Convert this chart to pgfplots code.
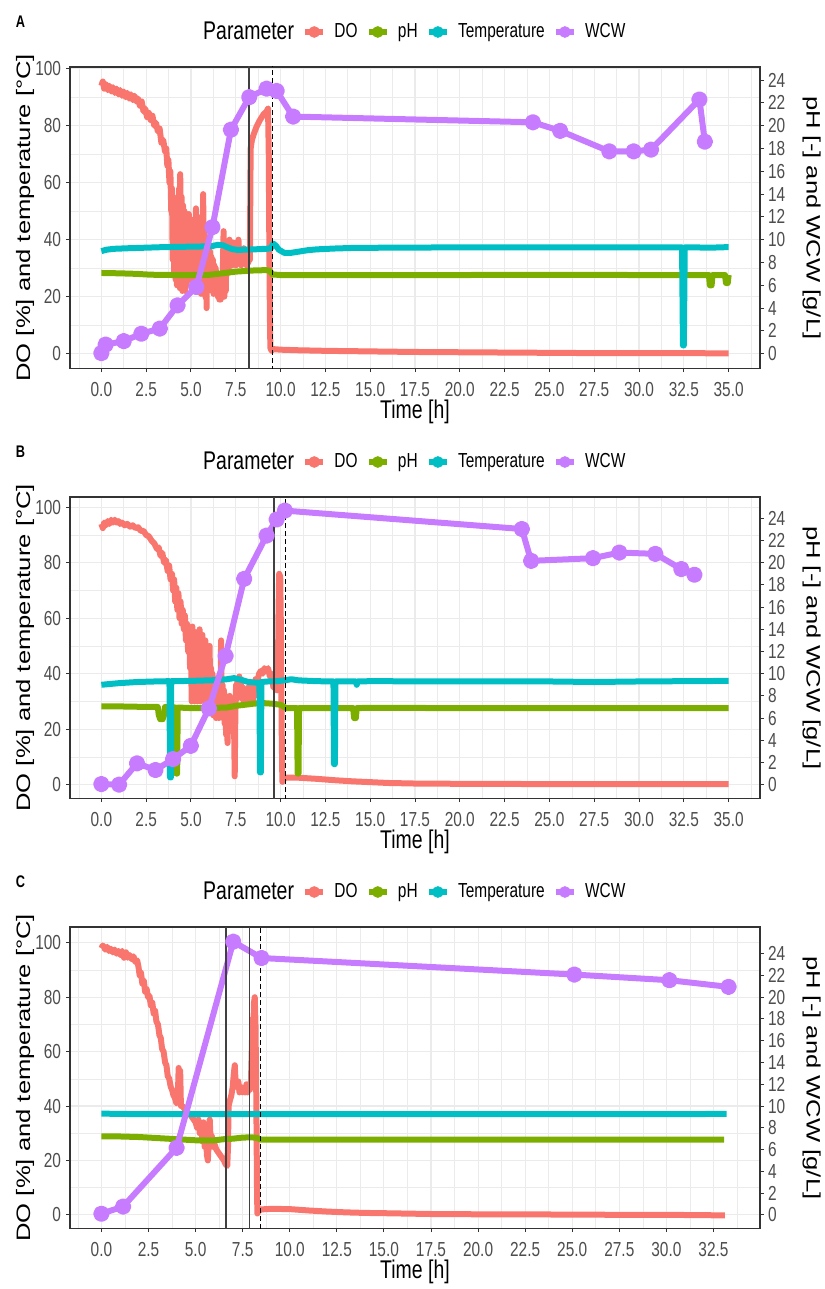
\documentclass[border=0pt]{standalone}
\usepackage{pgfplots}
\pgfplotsset{compat=1.18}
\usepackage{graphicx}
\usepackage{fontspec}
\setmainfont{Liberation Sans}[FakeStretch=0.76]
\newfontfamily\rotfont{Liberation Sans}
\definecolor{cDO}{HTML}{F8766D}
\definecolor{cPH}{HTML}{7CAE00}
\definecolor{cTE}{HTML}{00BFC4}
\definecolor{cWC}{HTML}{C77CFF}
\definecolor{grid92}{HTML}{EBEBEB}
\definecolor{g20}{HTML}{333333}
\definecolor{g30}{HTML}{4D4D4D}
\newcommand\tickfont{\fontsize{10.15}{12}\selectfont}
\newcommand\ttlfont{\fontsize{12.8}{15}\selectfont}
\pgfplotsset{
  base/.style={scale only axis, width=345pt, height=150.75pt, anchor=south west},
  xAB/.style={xmin=-1.75, xmax=36.75},
  xC/.style={xmin=-1.67, xmax=34.97},
  leftframe/.style={
    grid=both,
    major grid style={grid92, line width=0.55pt},
    minor grid style={grid92, line width=0.3pt},
    ytick={0,20,40,60,80,100}, minor ytick={10,30,50,70,90},
    tick align=outside, major tick length=1.8pt, minor tick length=0pt, tick pos=left,
    major tick style={g20, line width=0.5pt},
    axis line style={g20, line width=0.6pt},
    tick label style={font=\tickfont, text=g30},
    /pgf/number format/assume math mode=true,
    xticklabel={\pgfmathprintnumber[fixed,fixed zerofill,precision=1]{\tick}},
    xticklabel style={inner sep=0pt, anchor=north, yshift=-5pt},
    yticklabel style={inner sep=0pt, anchor=east, xshift=-2.5pt},
    xlabel={\ttlfont Time [h]},
    xlabel style={at={(axis description cs:0.5,0)}, anchor=center, yshift=-21.85pt},
    ylabel={\scalebox{1}[0.76]{\rotfont\ttlfont DO [\%] and temperature [°C]}},
    ylabel style={at={(axis description cs:-0.0652,0.5)}, anchor=center},
    every axis title/.style={at={(0,1)}, anchor=center, xshift=-24.75pt, yshift=22.75pt},
  },
  rightframe/.style={
    axis y line*=right, axis x line=none,
    ytick={0,2,4,6,8,10,12,14,16,18,20,22,24},
    tick align=outside, major tick length=1.8pt,
    major tick style={g20, line width=0.5pt},
    axis line style={g20, line width=0.6pt},
    tick label style={font=\tickfont, text=g30},
    /pgf/number format/assume math mode=true,
    yticklabel style={inner sep=0pt, anchor=west, xshift=2pt},
    ylabel={\scalebox{1}[0.76]{\rotfont\ttlfont pH [-] and WCW [g/L]}},
    ylabel style={at={(axis description cs:1.0749,0.5)}, anchor=center, rotate=180},
  },
  legax/.style={
    legend style={draw=none, fill=none, at={(0.5,1)}, anchor=center, yshift=17.5pt, xshift=-2.5pt,
      legend columns=-1, font=\tickfont, inner sep=0pt, nodes={inner sep=0pt},
      /tikz/every odd column/.append style={column sep=4.3pt},
      /tikz/every even column/.append style={column sep=4.3pt}},
  },
  ser/.style={line width=3pt, line join=round},
  wcw/.style={cWC, line width=3pt, line join=round, mark=*, mark size=2.6pt, mark options={solid}},
}
\begin{document}
\begin{tikzpicture}
\useasboundingbox (0,0) rectangle (412pt,-644.5pt);
% ================= PANEL A =================
\begin{axis}[base, xAB, leftframe, at={(35pt,-184.25pt)}, ymin=-5.2, ymax=100.6,
  xtick={0,2.5,5,7.5,10,12.5,15,17.5,20,22.5,25,27.5,30,32.5,35},
  minor xtick={-1.25,1.25,3.75,6.25,8.75,11.25,13.75,16.25,18.75,21.25,23.75,26.25,28.75,31.25,33.75,36.25},
  title={\bfseries\fontsize{8.4}{10}\selectfont A}]
\addplot[ser, cDO] coordinates {
(0,94)(0.08,95.5)(0.16,93)(0.25,94.5)(0.35,92.5)(0.45,94)(0.55,92)(0.65,93.5)(0.75,91.5)(0.85,93)(0.95,91)(1.05,92.5)(1.15,90.5)(1.25,92)(1.35,90)(1.45,91.5)(1.55,89.5)(1.65,91)(1.75,89)(1.85,90.5)(1.95,88.5)(2.05,89.5)(2.15,87)(2.25,88.5)(2.35,85)(2.45,86)(2.55,83)(2.65,84.5)(2.75,82)(2.85,83.5)(2.95,80)(3.05,81)(3.15,78)(3.25,79)(3.35,74)(3.45,75)(3.55,71)(3.62,72)(3.68,66)(3.74,68)(3.8,60)(3.85,64)(3.9,50)(3.94,58)
(3.98,33)(4.02,55)(4.06,28)(4.1,52)(4.14,26)(4.18,54)(4.22,24)(4.26,50)(4.3,25)(4.34,58)(4.38,23)(4.4,63)(4.44,24)(4.48,55)(4.52,22)(4.56,52)(4.6,23)(4.64,50)(4.68,22)(4.72,48)(4.76,24)(4.8,46)(4.84,27)(4.88,49)(4.92,26)(4.96,45)(5.0,28)(5.04,47)(5.08,26)(5.12,46)(5.16,24)(5.2,44)(5.24,23)(5.28,51)(5.32,24)(5.36,48)(5.4,22)(5.44,45)(5.48,23)(5.52,42)(5.56,21)(5.6,48)(5.64,25)(5.68,56)(5.72,22)(5.76,44)(5.8,20)(5.84,38)(5.87,16)(5.9,34)(5.94,22)(5.98,37)(6.02,23)(6.06,36)(6.1,24)(6.14,34)(6.18,22)(6.22,33)(6.26,21)(6.3,31)(6.34,22)(6.38,30)(6.42,21)(6.46,27)(6.5,20)(6.54,26)(6.58,19)(6.62,25)(6.66,19)(6.7,24)(6.74,20)(6.78,30)(6.82,43)(6.86,20)(6.9,38)(6.94,22)(6.98,36)(7.02,28)(7.06,38)(7.1,30)(7.15,40)(7.2,32)(7.25,38)(7.3,31)(7.35,39)(7.4,32)(7.45,37)(7.5,31)(7.55,39)(7.6,33)(7.65,40)(7.7,32)(7.75,37)(7.8,31)(7.85,36)(7.9,32)(7.95,37)(8.0,32)(8.05,36)(8.1,31)(8.15,35)(8.2,32)(8.25,34)(8.29,33)
(8.31,55)(8.33,72)(8.4,75)(8.5,77)(8.65,79.5)(8.85,82)(9.05,84)(9.22,85)(9.3,86)(9.34,70)(9.37,40)(9.4,15)(9.43,2)(9.5,1)(9.6,1.6)(10,1.4)(11,1.2)(12.5,1)(15,0.8)(17.5,0.6)(20,0.5)(22.5,0.4)(25,0.3)(27.5,0.2)(30,0.2)(32.5,0.2)(35,0.1)};
\end{axis}
\begin{axis}[base, xAB, rightframe, at={(35pt,-184.25pt)}, ymin=-1.3, ymax=25.15]
\addplot[ser, cPH] coordinates {
(0,7.08)(1,7.05)(2,7.0)(2.5,6.95)(3,6.92)(4,6.9)(5,6.9)(6,6.92)(6.5,7.0)(7,7.1)(7.5,7.2)(8,7.25)(8.5,7.3)(9.2,7.33)(9.4,7.25)(9.55,6.95)(10,6.9)(15,6.9)(20,6.9)(25,6.92)(30,6.9)(33.9,6.9)(33.95,6.0)(34.05,6.0)(34.1,6.9)(34.8,6.9)(34.85,6.2)(34.95,6.2)(35,6.9)};
\end{axis}
\begin{axis}[base, xAB, hide axis, at={(35pt,-184.25pt)}, ymin=-5.2, ymax=100.6]
\addplot[ser, cTE] coordinates {
(0,36)(0.3,36.5)(0.7,36.8)(1.5,37)(2.5,37.2)(3.5,37.4)(4.5,37.5)(5.5,37.6)(6.2,37.8)(6.5,38.2)(6.8,38)(7.0,37.4)(7.3,36.7)(7.6,36.4)(8,36.5)(8.5,36.6)(9.2,36.8)(9.45,37)(9.6,38.6)(9.75,37.8)(9.9,36.5)(10.2,35.4)(10.6,35.4)(11,35.8)(11.5,36.3)(12,36.6)(13,36.9)(14,37.1)(16,37.2)(20,37.3)(25,37.3)(30,37.3)(32.4,37.3)(32.45,2.9)(32.5,2.9)(32.55,37.3)(33,37.3)(34,37.2)(35,37.4)};
\end{axis}
\begin{axis}[base, xAB, hide axis, legax, at={(35pt,-184.25pt)}, ymin=-1.3, ymax=25.15,
  legend image code/.code={\draw[#1, line width=2.6pt] (0pt,0pt) -- (9pt,0pt); \fill[#1] (4.5pt,0pt) circle (2.7pt);}]
\addlegendimage{empty legend}\addlegendentry{\ttlfont Parameter}
\addlegendimage{cDO}\addlegendentry{DO}
\addlegendimage{cPH}\addlegendentry{pH}
\addlegendimage{cTE}\addlegendentry{Temperature}
\addlegendimage{cWC}\addlegendentry{WCW}
\addplot[wcw, forget plot] coordinates {
(0,0.05)(0.24,0.8)(1.25,1.1)(2.23,1.75)(3.26,2.2)(4.25,4.24)(5.3,5.85)(6.2,11.1)(7.23,19.65)(8.25,22.5)(9.22,23.25)(9.78,23.05)(10.7,20.8)(24.08,20.3)(25.6,19.55)(28.34,17.75)(29.7,17.75)(30.67,17.9)(33.37,22.3)(33.67,18.6)};
\addplot[black!75, line width=0.8pt, forget plot] coordinates {(8.24,-5)(8.24,30)};
\addplot[black, line width=0.6pt, dash pattern=on 2.5pt off 1.5pt, forget plot] coordinates {(9.53,-5)(9.53,30)};
\end{axis}
% ================= PANEL B =================
\begin{axis}[base, xAB, leftframe, at={(35pt,-399.25pt)}, ymin=-5.0, ymax=103.7,
  xtick={0,2.5,5,7.5,10,12.5,15,17.5,20,22.5,25,27.5,30,32.5,35},
  minor xtick={-1.25,1.25,3.75,6.25,8.75,11.25,13.75,16.25,18.75,21.25,23.75,26.25,28.75,31.25,33.75,36.25},
  title={\bfseries\fontsize{8.4}{10}\selectfont B}]
\addplot[ser, cDO] coordinates {
(0,94)(0.08,92.5)(0.16,94.5)(0.25,93.5)(0.35,95)(0.45,94)(0.55,95.5)(0.65,94.5)(0.75,95.5)(0.85,94.5)(0.95,95)(1.05,94)(1.15,94.5)(1.3,93.5)(1.45,94)(1.6,93)(1.75,93.5)(1.9,92.5)(2.05,92.8)(2.2,91.5)(2.35,91.5)(2.5,90)(2.65,89.5)(2.8,88)(2.95,87)(3.1,85)(3.2,85.5)(3.3,82.5)(3.4,83.5)(3.5,80)(3.6,81)(3.7,77)(3.78,79)(3.86,74)(3.94,76)(4.0,70)(4.06,74)(4.12,66)(4.18,71)(4.24,63)(4.3,69)(4.36,60)(4.42,66)(4.48,58)(4.54,63)(4.6,56)(4.66,61)(4.72,52)(4.78,58)(4.84,48)(4.9,55)(4.95,42)(5.0,50)
(5.04,30)(5.08,57)(5.12,31)(5.16,52)(5.2,30)(5.24,55)(5.28,32)(5.32,50)(5.36,30)(5.4,53)(5.44,31)(5.48,56)(5.52,30)(5.56,49)(5.6,31)(5.64,54)(5.68,32)(5.72,50)(5.76,30)(5.8,52)(5.84,31)(5.88,47)(5.92,28)(5.96,45)(6.0,27)(6.04,50)(6.08,26)(6.12,42)(6.16,28)(6.2,40)(6.24,25)(6.28,36)(6.32,27)(6.36,38)(6.4,24)(6.44,35)(6.48,26)(6.52,33)(6.56,24)(6.6,40)(6.64,27)(6.68,52)(6.72,25)(6.76,36)(6.8,24)(6.84,34)(6.88,22)(6.92,30)(6.96,18)(7.0,28)(7.04,15)(7.08,26)(7.12,22)(7.16,32)(7.2,24)(7.25,30)(7.3,25)(7.35,28)(7.4,24)(7.44,3)(7.48,28)(7.52,36)(7.56,31)(7.6,38)(7.65,32)(7.7,39)(7.75,33)(7.8,36)(7.85,31)(7.9,35)(7.95,30)(8.0,34)(8.05,29)(8.1,34)(8.15,30)(8.2,35)(8.25,29)(8.3,34)(8.35,31)(8.4,36)(8.45,30)(8.5,35)(8.55,32)(8.6,38)(8.7,37)(8.8,40)(8.9,41)(9.0,40)(9.1,42)(9.2,41)(9.3,42)(9.4,39)(9.5,40)(9.6,35)(9.7,36)(9.8,34)(9.85,38)(9.88,60)(9.92,76)(9.98,75)(10.02,55)(10.06,20)(10.1,1)(10.15,2)(10.3,2.5)(11,2.5)(12,2.1)(13,1.6)(14,1.2)(15,0.9)(16,0.6)(17.5,0.4)(20,0.3)(25,0.2)(30,0.2)(35,0.2)};
\end{axis}
\begin{axis}[base, xAB, rightframe, at={(35pt,-399.25pt)}, ymin=-1.25, ymax=25.925]
\addplot[ser, cPH] coordinates {
(0,7.05)(1,7.05)(2,7.02)(3.15,7.0)(3.2,6.3)(3.28,5.9)(3.42,5.9)(3.5,6.3)(3.55,7.0)(4.15,6.95)(4.18,1.0)(4.23,1.0)(4.26,6.95)(5,6.9)(6,6.9)(7,6.95)(7.5,7.1)(8,7.2)(8.5,7.3)(9,7.35)(9.5,7.3)(10,7.2)(10.3,6.9)(10.92,6.9)(10.95,1.0)(11.0,1.0)(11.03,6.9)(12,6.9)(14.05,6.9)(14.1,6.0)(14.2,6.0)(14.25,6.9)(15,6.92)(20,6.9)(25,6.9)(30,6.9)(35,6.9)};
\end{axis}
\begin{axis}[base, xAB, hide axis, at={(35pt,-399.25pt)}, ymin=-5.0, ymax=103.7]
\addplot[ser, cTE] coordinates {
(0,36)(0.5,36.3)(1,36.6)(2,37)(3,37.2)(3.8,37.3)(3.83,2.6)(3.88,2.6)(3.9,37.3)(5,37.4)(6,37.6)(6.5,37.7)(7,38)(7.4,38.4)(7.8,37.8)(8.2,37)(8.6,36.8)(8.82,36.8)(8.85,4.4)(8.9,4.4)(8.93,37)(9.3,37.2)(9.8,37.3)(10.2,37.6)(10.6,38)(11,37.6)(12,37.3)(12.95,37.2)(12.98,7.4)(13.03,7.4)(13.06,37.2)(14.2,37.2)(14.25,36)(14.3,37.2)(15,37.3)(20,37.2)(25,37.2)(27.5,37)(30,37.2)(35,37.4)};
\end{axis}
\begin{axis}[base, xAB, hide axis, legax, at={(35pt,-399.25pt)}, ymin=-1.25, ymax=25.925,
  legend image code/.code={\draw[#1, line width=2.6pt] (0pt,0pt) -- (9pt,0pt); \fill[#1] (4.5pt,0pt) circle (2.7pt);}]
\addlegendimage{empty legend}\addlegendentry{\ttlfont Parameter}
\addlegendimage{cDO}\addlegendentry{DO}
\addlegendimage{cPH}\addlegendentry{pH}
\addlegendimage{cTE}\addlegendentry{Temperature}
\addlegendimage{cWC}\addlegendentry{WCW}
\addplot[wcw, forget plot] coordinates {
(0,0.05)(0.99,0)(1.99,1.92)(3.02,1.32)(4.0,2.3)(4.99,3.5)(6.0,6.87)(6.93,11.6)(7.97,18.55)(9.22,22.45)(9.78,23.9)(10.24,24.7)(23.46,23.04)(23.98,20.17)(27.43,20.41)(28.9,20.92)(30.91,20.8)(32.36,19.43)(33.09,18.92)};
\addplot[black!75, line width=0.8pt, forget plot] coordinates {(9.63,-5)(9.63,30)};
\addplot[black, line width=0.6pt, dash pattern=on 2.5pt off 1.5pt, forget plot] coordinates {(10.28,-5)(10.28,30)};
\end{axis}
% ================= PANEL C =================
\begin{axis}[base, xC, leftframe, at={(35pt,-614.25pt)}, ymin=-5.03, ymax=105.8,
  xtick={0,2.5,5,7.5,10,12.5,15,17.5,20,22.5,25,27.5,30,32.5},
  minor xtick={-1.25,1.25,3.75,6.25,8.75,11.25,13.75,16.25,18.75,21.25,23.75,26.25,28.75,31.25,33.75},
  title={\bfseries\fontsize{8.4}{10}\selectfont C}]
\addplot[ser, cDO] coordinates {
(0,98)(0.07,99)(0.14,98.5)(0.2,97.5)(0.3,98.5)(0.4,97)(0.5,97.8)(0.6,96.5)(0.7,97.5)(0.8,96)(0.9,97)(1.0,95.5)(1.1,97)(1.2,94.5)(1.3,96.5)(1.4,94.5)(1.5,95.5)(1.6,94)(1.7,95)(1.8,93)(1.9,93.5)(1.97,91)(2.03,88)(2.1,89)(2.17,85)(2.25,86)(2.32,82)(2.4,83)(2.47,80)(2.55,80.5)(2.62,77)(2.7,78)(2.77,74)(2.85,75)(2.92,71)(3.0,70)(3.08,66)(3.15,65)(3.22,61)(3.3,60)(3.38,56)(3.45,55)(3.52,51)(3.6,50)(3.68,47)(3.75,46)(3.82,44)(3.9,43)(3.98,41)(4.05,42)(4.1,54)(4.14,44)(4.18,53)(4.22,40)(4.3,40)(4.4,39)(4.5,38.5)(4.6,37.5)(4.7,37)(4.8,36)(4.9,35)(5.0,34)(5.08,32)(5.15,35)(5.22,30)(5.3,33)(5.36,27)(5.42,34)(5.48,25)(5.54,31)(5.6,22)(5.65,20)(5.7,28)(5.75,35)(5.8,27)(5.86,29)(5.92,25)(6.0,26)(6.1,24)(6.2,23)(6.3,22)(6.4,21)(6.5,20)(6.6,18.5)(6.68,18)(6.72,25)(6.75,40)(6.82,42)(6.9,44)(6.97,47)(7.03,52)(7.08,55)(7.13,48)(7.2,47)(7.27,49)(7.33,45)(7.4,47)(7.48,45)(7.55,46)(7.62,45)(7.7,48)(7.76,45)(7.82,47)(7.88,46)(7.94,49)(7.98,60)(8.02,72)(8.06,66)(8.1,78)(8.14,80)(8.18,70)(8.22,45)(8.26,10)(8.28,0.5)(8.35,1.5)(8.5,2)(9,2.2)(10,2.1)(11,1.6)(12,1.2)(13,0.9)(14,0.7)(15,0.6)(17.5,0.3)(20,0.2)(25,0.1)(27.5,0)(30,0)(33.1,-0.2)};
\end{axis}
\begin{axis}[base, xC, rightframe, at={(35pt,-614.25pt)}, ymin=-1.2575, ymax=26.45]
\addplot[ser, cPH] coordinates {
(0,7.22)(1,7.2)(2,7.15)(3,7.05)(4,6.95)(5,6.85)(6,6.85)(6.5,6.95)(7,7.0)(7.5,7.1)(8,7.12)(8.3,7.05)(8.45,6.92)(10,6.92)(20,6.92)(33.07,6.92)};
\end{axis}
\begin{axis}[base, xC, hide axis, at={(35pt,-614.25pt)}, ymin=-5.03, ymax=105.8]
\addplot[ser, cTE] coordinates {
(0,37.2)(2,37)(5,37)(10,37)(15,37)(20,37)(25,37)(30,37)(33.2,37.1)};
\end{axis}
\begin{axis}[base, xC, hide axis, legax, at={(35pt,-614.25pt)}, ymin=-1.2575, ymax=26.45,
  legend image code/.code={\draw[#1, line width=2.6pt] (0pt,0pt) -- (9pt,0pt); \fill[#1] (4.5pt,0pt) circle (2.7pt);}]
\addlegendimage{empty legend}\addlegendentry{\ttlfont Parameter}
\addlegendimage{cDO}\addlegendentry{DO}
\addlegendimage{cPH}\addlegendentry{pH}
\addlegendimage{cTE}\addlegendentry{Temperature}
\addlegendimage{cWC}\addlegendentry{WCW}
\addplot[wcw, forget plot] coordinates {
(0,0.1)(1.15,0.76)(3.99,6.16)(7.0,25.1)(8.5,23.6)(25.11,22.08)(30.16,21.56)(33.3,20.95)};
\addplot[black!75, line width=0.8pt, forget plot] coordinates {(6.61,-5)(6.61,30)};
\addplot[black!75, line width=0.8pt, forget plot] coordinates {(7.87,-5)(7.87,30)};
\addplot[black, line width=0.6pt, dash pattern=on 2.5pt off 1.5pt, forget plot] coordinates {(8.43,-5)(8.43,30)};
\end{axis}
\end{tikzpicture}
\end{document}
